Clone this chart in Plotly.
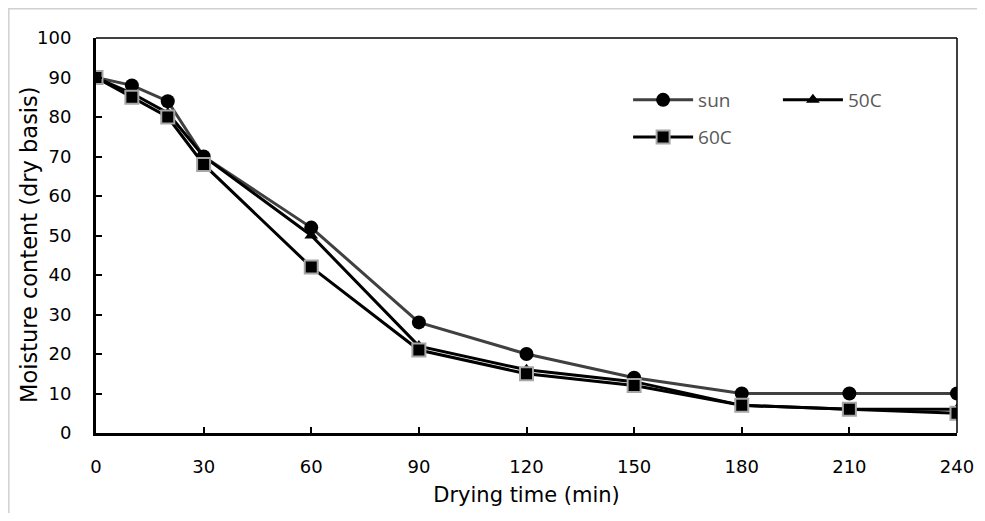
import plotly.graph_objects as go

time_min = [0, 10, 20, 30, 60, 90, 120, 150, 180, 210, 240]
sun = [90, 88, 84, 70, 52, 28, 20, 14, 10, 10, 10]
c50 = [90, 86, 81, 70, 50, 22, 16, 13, 7, 6, 6]
c60 = [90, 85, 80, 68, 42, 21, 15, 12, 7, 6, 5]
x_ticks = [0, 30, 60, 90, 120, 150, 180, 210, 240]
y_ticks = [0, 10, 20, 30, 40, 50, 60, 70, 80, 90, 100]

fig = go.Figure()
fig.add_trace(go.Scatter(x=time_min, y=sun, name="sun", mode="lines+markers",
                         line=dict(color="#404040", width=3),
                         marker=dict(symbol="circle", size=14, color="black"),
                         legend="legend"))
fig.add_trace(go.Scatter(x=time_min, y=c50, name="50C", mode="lines+markers",
                         line=dict(color="black", width=3),
                         marker=dict(symbol="triangle-up", size=12, color="black"),
                         legend="legend2"))
fig.add_trace(go.Scatter(x=time_min, y=c60, name="60C", mode="lines+markers",
                         line=dict(color="black", width=3),
                         marker=dict(symbol="square", size=13, color="black",
                                     line=dict(color="#a6a6a6", width=2)),
                         legend="legend3"))

font_main = "DejaVu Sans"
leg_common = dict(font=dict(family="Open Sans", size=19, color="#595959"),
                  bgcolor="rgba(0,0,0,0)", xanchor="left", yanchor="middle",
                  itemwidth=60)

W, H = 969, 505
L, R, T, B = 88, 20, 30, 80
pw, ph = W - L - R, H - T - B

fig.update_layout(
    width=W, height=H,
    margin=dict(l=L, r=R, t=T, b=B, autoexpand=False),
    showlegend=True,
    paper_bgcolor="white", plot_bgcolor="white",
    font=dict(family=font_main, size=18, color="black"),
    xaxis=dict(range=[0, 240], tickvals=x_ticks, ticks="inside", ticklen=6,
               tickwidth=2, tickcolor="black", showline=True, linewidth=3,
               linecolor="black", showgrid=False, zeroline=False,
               ticklabelstandoff=15,
               title=dict(text="Drying time (min)", standoff=12,
                          font=dict(size=21))),
    yaxis=dict(range=[0, 100], tickvals=y_ticks, ticks="inside", ticklen=6,
               tickwidth=2, tickcolor="black", showline=True, linewidth=3,
               linecolor="black", showgrid=False, zeroline=False,
               ticklabelstandoff=18),
    legend=dict(x=0.618, y=0.843, **leg_common),
    legend2=dict(x=0.792, y=0.843, **leg_common),
    legend3=dict(x=0.618, y=0.749, **leg_common),
    annotations=[dict(text="Moisture content (dry basis)", textangle=-90,
                      xref="paper", yref="paper",
                      x=(21 - L) / pw, y=(ph + T - 237) / ph,
                      xanchor="center", yanchor="middle", showarrow=False,
                      font=dict(family=font_main, size=22.5, color="black"))],
)

# thin top/right frame of plot area
fig.add_shape(type="line", xref="paper", yref="paper", x0=0, x1=1, y0=1, y1=1,
              line=dict(color="black", width=1.5))
fig.add_shape(type="line", xref="paper", yref="paper", x0=1, x1=1, y0=0, y1=1,
              line=dict(color="black", width=1.5))
# outer gray border
fig.add_shape(type="rect", xref="paper", yref="paper",
              x0=(0.8 - L) / pw, x1=1.2, y0=-0.4, y1=(ph + T - 0.8) / ph,
              line=dict(color="#d0d0d0", width=1.5), layer="below")

fig.write_html("out.html")
